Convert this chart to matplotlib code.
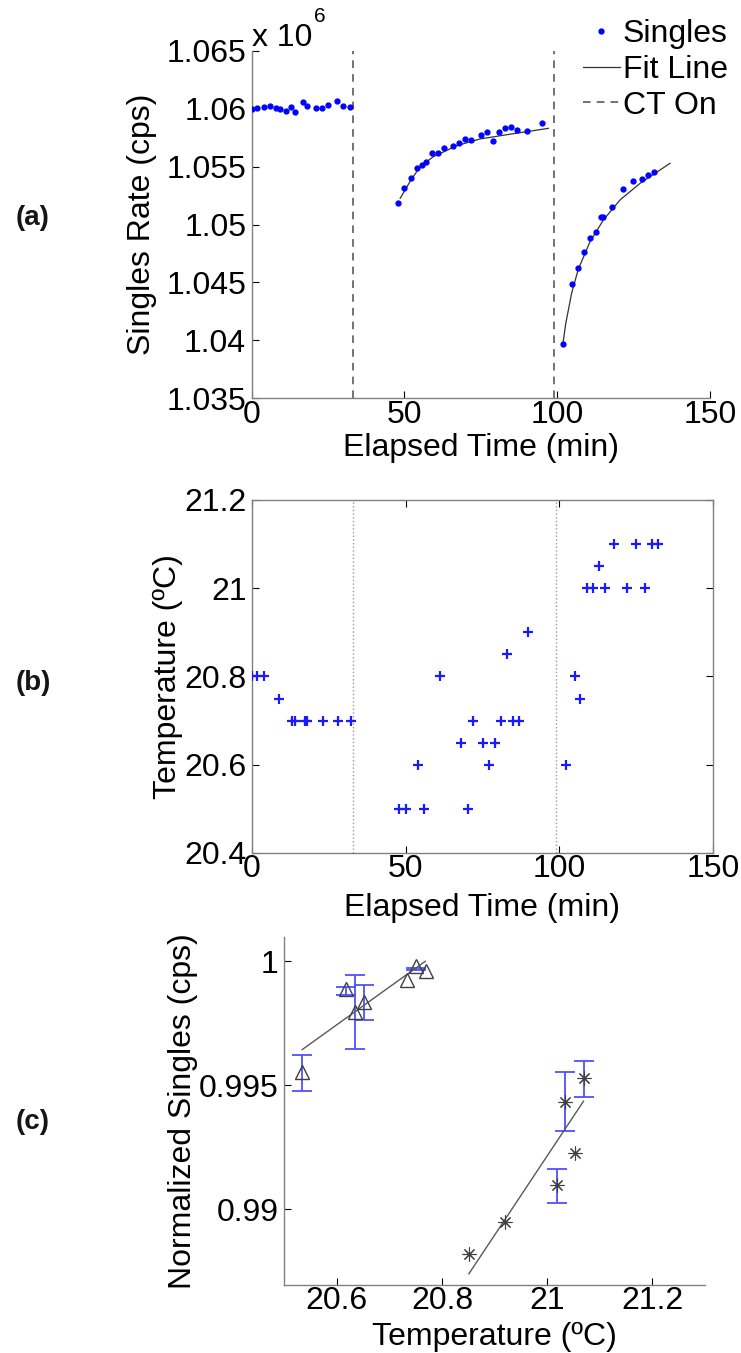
import numpy as np
import matplotlib
matplotlib.use("Agg")
import matplotlib.pyplot as plt
from matplotlib.ticker import FuncFormatter

plt.rcParams['font.family'] = ['Liberation Sans', 'DejaVu Sans']

# (a) singles rate, in units of 10^6 cps
singles_t = [0.0, 1.84, 4.03, 5.99, 7.85, 9.26, 11.12, 12.86, 14.17, 16.68, 18.21,
             21.05, 22.9, 25.08, 28.03, 29.99, 32.18,
             48.0, 49.96, 52.04, 54.0, 55.85, 57.05, 59.02, 61.09, 62.95, 66.0,
             67.86, 69.82, 71.78, 74.95, 76.91, 78.88, 80.84, 82.91, 84.88, 86.95,
             90.0, 94.92,
             101.79, 104.74, 106.92, 108.88, 110.74, 112.7, 114.3, 114.9, 117.83,
             121.65, 124.92, 127.87, 129.83, 131.79]
singles_v = [1.05997, 1.06003, 1.06017, 1.06023, 1.06003, 1.05994, 1.05982, 1.06017,
             1.05974, 1.06054, 1.06026, 1.06003, 1.06003, 1.06034, 1.06069, 1.06026,
             1.06017,
             1.05183, 1.05318, 1.05404, 1.05485, 1.05514, 1.05542, 1.05614, 1.0562,
             1.05657, 1.0568, 1.05706, 1.05741, 1.05729, 1.05775, 1.05801, 1.05724,
             1.05795, 1.05833, 1.05842, 1.05816, 1.05807, 1.05879,
             1.03969, 1.04484, 1.04622, 1.0476, 1.04881, 1.04938, 1.05062, 1.05062,
             1.05154, 1.05306, 1.05378, 1.05393, 1.05427, 1.05456]

fit2_t = [48.6, 51.8, 55.1, 59.45, 67.1, 74.7, 83.5, 90.0, 97.1]
fit2_v = [1.05226, 1.0537, 1.05499, 1.05585, 1.0568, 1.05738, 1.05775, 1.05801, 1.0583]
fit3_t = [101.9, 102.8, 104.7, 106.9, 110.74, 115.1, 120.56, 127.1, 136.9]
fit3_v = [1.0398, 1.04147, 1.04406, 1.04615, 1.04852, 1.05039, 1.05212, 1.05355, 1.05528]

ct_on = [33.0, 98.8]

# (b) temperature
temp_t = [0, 1.7, 3.87, 8.87, 12.88, 13.96, 17.22, 17.98, 22.97, 27.85, 32.09,
          47.93, 49.99, 53.9, 55.96, 61.16, 68.0, 70.17, 72.02, 75.06, 77.12, 79.07,
          81.02, 82.87, 85.04, 86.99, 89.92,
          102.07, 105.11, 106.74, 108.91, 110.86, 112.92, 114.87, 117.91, 121.93,
          124.86, 127.9, 130.07, 132.02]
temp_v = [20.8, 20.8, 20.8, 20.75, 20.7, 20.7, 20.7, 20.7, 20.7, 20.7, 20.7,
          20.5, 20.5, 20.6, 20.5, 20.8, 20.65, 20.5, 20.7, 20.65, 20.6, 20.65,
          20.7, 20.85, 20.7, 20.7, 20.9,
          20.6, 20.8, 20.75, 21.0, 21.0, 21.05, 21.0, 21.1, 21.0,
          21.1, 21.0, 21.1, 21.1]

# (c) normalized singles vs temperature
tri_x = [20.534, 20.618, 20.634, 20.652, 20.734, 20.751, 20.770]
tri_y = [0.99554, 0.99887, 0.99796, 0.99836, 0.99924, 0.99980, 0.99960]
tri_eb_x = [20.534, 20.618, 20.634, 20.652, 20.751]
tri_eb_y = [0.9955, 0.99882, 0.99795, 0.99833, 0.99969]
tri_eb_e = [0.00074, 0.00016, 0.0015, 0.0007, 0.00005]
tri_fit_x = [20.534, 20.768]
tri_fit_y = [0.99644, 1.0000]

star_x = [20.851, 20.919, 21.018, 21.034, 21.053, 21.069]
star_y = [0.9882, 0.98948, 0.99098, 0.99433, 0.99229, 0.99528]
star_eb_x = [21.018, 21.034, 21.069]
star_eb_y = [0.99094, 0.99434, 0.99526]
star_eb_e = [0.00067, 0.0012, 0.00073]
star_fit_x = [20.851, 21.069]
star_fit_y = [0.9874, 0.99436]

FS = 23
W, H = 741, 1353
fig = plt.figure(figsize=(W / 100, H / 100), dpi=100)


def ax_at(left, top, right, bottom):
    return fig.add_axes([left / W, 1 - bottom / H, (right - left) / W, (bottom - top) / H])


def style(ax, box=False):
    for s in ax.spines.values():
        s.set_color('0.5')
        s.set_linewidth(1.0)
    if not box:
        ax.spines['top'].set_visible(False)
        ax.spines['right'].set_visible(False)
    ax.tick_params(direction='in', length=5, width=0.8, colors='black',
                   labelsize=FS, top=box, right=box)
    ax.tick_params(axis='y', pad=4)
    ax.tick_params(axis='x', pad=1)


fmt = FuncFormatter(lambda v, p: '%g' % round(v, 4))

# ---- (a)
ax1 = ax_at(251.7, 50.7, 710, 398.3)
style(ax1)
for i, t in enumerate(ct_on):
    ax1.axvline(t, color='0.3', lw=1.1, dashes=(5, 4), label='CT On' if i == 0 else None)
ax1.plot(singles_t, singles_v, '.', color='#0000ff', ms=7, label='Singles', zorder=3)
ax1.plot(fit2_t, fit2_v, '-', color='0.2', lw=0.9, label='Fit Line')
ax1.plot(fit3_t, fit3_v, '-', color='0.2', lw=0.9)
ax1.set_xlim(0, 150)
ax1.set_ylim(1.035, 1.065)
ax1.set_xticks([0, 50, 100, 150])
ax1.set_yticks(np.arange(1.035, 1.0651, 0.005))
ax1.yaxis.set_major_formatter(fmt)
ax1.set_xlabel('Elapsed Time (min)', fontsize=FS, va='center')
ax1.xaxis.set_label_coords(0.5, -0.142)
ax1.set_ylabel('Singles Rate (cps)', fontsize=FS, va='center')
ax1.yaxis.set_label_coords(-0.239, 0.5)
h, l = ax1.get_legend_handles_labels()
order = [l.index('Singles'), l.index('Fit Line'), l.index('CT On')]
ax1.legend([h[i] for i in order], [l[i] for i in order], loc='upper right',
           bbox_to_anchor=(728 / W, 1 - 19 / H), bbox_transform=fig.transFigure,
           frameon=False, fontsize=FS, handlelength=1.15, handletextpad=0.1,
           labelspacing=0.18, borderpad=0, borderaxespad=0, markerscale=1.0)
fig.text(252 / W, 1 - 46 / H, 'x 10', fontsize=FS, ha='left', va='baseline')
fig.text(314 / W, 1 - 22 / H, '6', fontsize=15, ha='left', va='baseline')

# ---- (b)
ax2 = ax_at(252.1, 500, 712.9, 853)
style(ax2, box=True)
for t in ct_on:
    ax2.axvline(t, color='0.6', lw=1.0, ls=':')
ax2.plot(temp_t, temp_v, '+', color='#1a1aff', ms=7, mew=1.6, zorder=3)
ax2.set_xlim(0, 150)
ax2.set_ylim(20.4, 21.2)
ax2.set_xticks([0, 50, 100, 150])
ax2.set_yticks([20.4, 20.6, 20.8, 21.0, 21.2])
ax2.yaxis.set_major_formatter(fmt)
ax2.set_xlabel('Elapsed Time (min)', fontsize=FS, va='center')
ax2.xaxis.set_label_coords(0.5, -0.155)
ax2.set_ylabel('Temperature (ºC)', fontsize=FS, va='center')
ax2.yaxis.set_label_coords(-0.1825, 0.5)

# ---- (c)
ax3 = ax_at(284.3, 936.5, 705, 1285)
style(ax3)
ax3.errorbar(tri_eb_x, tri_eb_y, yerr=tri_eb_e, fmt='none', ecolor='#5050ff',
             elinewidth=1.3, capsize=7, capthick=1.3)
ax3.errorbar(star_eb_x, star_eb_y, yerr=star_eb_e, fmt='none', ecolor='#5050ff',
             elinewidth=1.3, capsize=7, capthick=1.3)
ax3.plot(tri_fit_x, tri_fit_y, '-', color='0.35', lw=1.0)
ax3.plot(star_fit_x, star_fit_y, '-', color='0.35', lw=1.0)
ax3.plot(tri_x, tri_y, '^', mfc='none', mec='0.25', ms=10, mew=1.0, ls='none')
ax3.plot(star_x, star_y, marker=(8, 2, 0), color='0.25', ms=10, mew=0.8, ls='none')
ax3.set_xlim(20.5, 21.3)
ax3.set_ylim(0.98695, 1.001)
ax3.set_xticks([20.6, 20.8, 21.0, 21.2])
ax3.set_yticks([0.99, 0.995, 1.0])
ax3.xaxis.set_major_formatter(fmt)
ax3.yaxis.set_major_formatter(fmt)
ax3.set_xlabel('Temperature (ºC)', fontsize=FS, va='center')
ax3.xaxis.set_label_coords(0.5, -0.15)
ax3.set_ylabel('Normalized Singles (cps)', fontsize=FS, va='center')
ax3.yaxis.set_label_coords(-0.241, 0.5)

# panel labels
for lab, y in [('(a)', 218), ('(b)', 683), ('(c)', 1122)]:
    fig.text(33 / W, 1 - y / H, lab, fontsize=20, fontweight='bold', color='#151515',
             ha='center', va='center')

fig.savefig('out.png', dpi=100)
